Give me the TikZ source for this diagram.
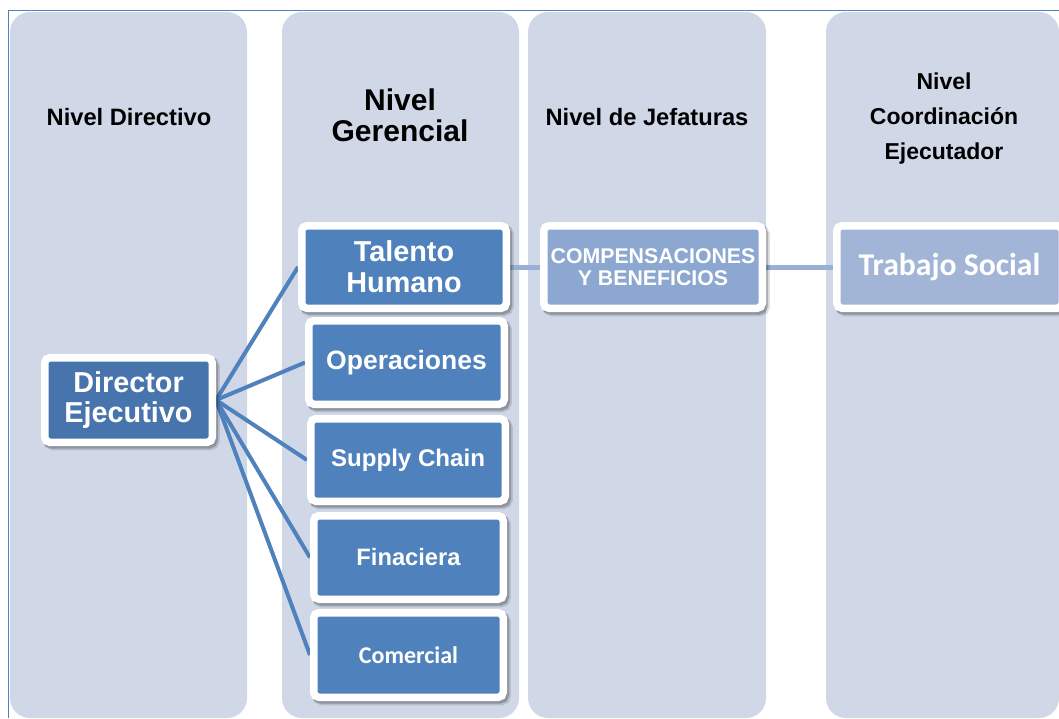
\documentclass[tikz,border=0pt]{standalone}
\usepackage{fontspec}
\setmainfont{Liberation Sans}
\newfontfamily\carlito{Carlito}
\pgfdeclarelayer{cols}
\pgfdeclarelayer{links}
\pgfsetlayers{cols,links,main}
\definecolor{colbg}{HTML}{D0D8E8}
\definecolor{gblue}{HTML}{4F81BD}
\definecolor{dblue}{HTML}{4774AC}
\definecolor{lblue}{HTML}{8DA8D0}
\definecolor{llblue}{HTML}{A2B5D7}
\definecolor{linkc}{HTML}{98B0D6}
\definecolor{framec}{HTML}{4F81BD}
\tikzset{
  colbox/.style={fill=colbg, rounded corners=20pt},
  header/.style={font=\bfseries\fontsize{23.7}{35}\selectfont, align=center, text=black, inner sep=0pt},
  unit/.style={draw=white, line width=7.5pt, rounded corners=5pt, text=white, align=center, inner sep=0pt,
    preaction={draw=black, draw opacity=0.12, line width=9pt, transform canvas={xshift=3pt, yshift=-3.5pt}},
    preaction={draw=black, draw opacity=0.22, line width=7.5pt, transform canvas={xshift=2pt, yshift=-2.5pt}}},
  conn/.style={draw=gblue, line width=4pt},
  link/.style={draw=linkc, line width=5pt}
}
\begin{document}
\begin{tikzpicture}[x=1pt,y=-1pt]
\useasboundingbox (0,0) rectangle (1059,718);
\begin{pgfonlayer}{cols}
\fill[white] (0,0) rectangle (1059,718);
\fill[colbox] (10,12) rectangle (247,718);
\fill[colbox] (282,12) rectangle (519,718);
\fill[colbox] (528,12) rectangle (766,718);
\fill[colbox] (826,12) rectangle (1059,718);
\draw[framec, line width=1pt] (8,718) -- (8,10) -- (1059,10);
\end{pgfonlayer}

\node[header] (h1) at (129,117) {Nivel Directivo};
\node[header, font=\bfseries\fontsize{30}{31}\selectfont] (h2) at (400,115) {Nivel\\Gerencial};
\node[header] (h3) at (647,117) {Nivel de Jefaturas};
\node[header, font=\bfseries\fontsize{23}{35}\selectfont] (h4) at (944,119) {Nivel\\Coordinación\\Ejecutador};

\node[unit, fill=dblue, minimum width=167.5pt, minimum height=84.5pt,
  font=\bfseries\fontsize{28.8}{30}\selectfont] (dir) at (128.5,400) {Director\\Ejecutivo};
\node[unit, fill=gblue, minimum width=204.5pt, minimum height=82.5pt,
  font=\bfseries\fontsize{28.8}{31}\selectfont] (th) at (404,267) {Talento\\Humano};
\node[unit, fill=gblue, minimum width=195.5pt, minimum height=83.5pt,
  font=\bfseries\fontsize{26.5}{30}\selectfont] (op) at (406.5,362.5) {Operaciones};
\node[unit, fill=gblue, minimum width=194.5pt, minimum height=82.5pt,
  font=\bfseries\fontsize{24.1}{28}\selectfont] (sc) at (408,460) {Supply Chain};
\node[unit, fill=gblue, minimum width=189.5pt, minimum height=83.5pt,
  font=\bfseries\fontsize{23.7}{28}\selectfont] (fi) at (408.5,557.5) {Finaciera};
\node[unit, fill=gblue, minimum width=189.5pt, minimum height=84.5pt,
  font=\carlito\bfseries\fontsize{24}{28}\selectfont] (co) at (408.5,655) {Comercial};
\node[unit, fill=lblue, minimum width=218.5pt, minimum height=82.5pt,
  font=\bfseries\fontsize{21.3}{21.5}\selectfont] (cb) at (653,267) {COMPENSACIONES\\Y BENEFICIOS};
\node[unit, fill=llblue, minimum width=225.5pt, minimum height=82.5pt,
  font=\carlito\bfseries\fontsize{31.7}{34}\selectfont] (ts) at (949.5,267) {Trabajo Social};

\begin{pgfonlayer}{links}
\draw[conn] (dir.east) -- (th.west);
\draw[conn] (dir.east) -- (op.west);
\draw[conn] (dir.east) -- (sc.west);
\draw[conn] (dir.east) -- (fi.west);
\draw[conn] (dir.east) -- (co.west);
\draw[link] (th.east) -- (cb.west);
\draw[link] (cb.east) -- (ts.west);
\end{pgfonlayer}
\end{tikzpicture}
\end{document}
